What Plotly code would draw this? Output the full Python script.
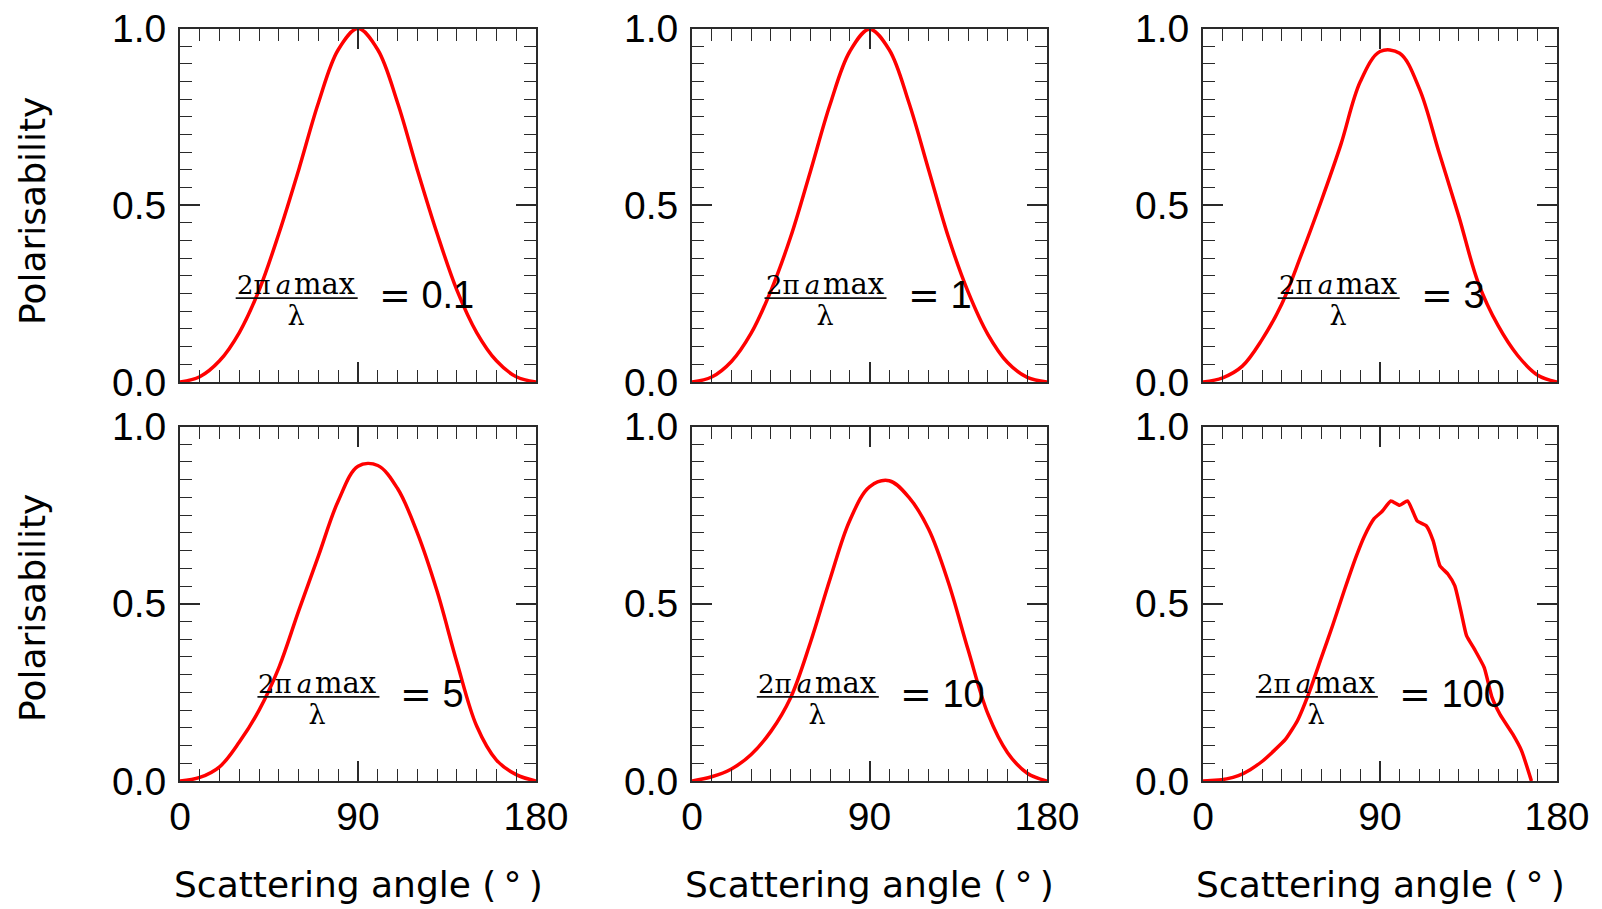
import plotly.graph_objects as go

# ---------------- data ----------------
angles = [0, 10, 20, 30, 40, 50, 60, 70, 80, 90, 100, 110, 120, 130, 140, 150, 160, 170, 180]

pol_size_01 = [0.0, 0.015, 0.06, 0.14, 0.26, 0.42, 0.60, 0.79, 0.94, 1.0, 0.94, 0.79, 0.60, 0.42, 0.26, 0.14, 0.06, 0.015, 0.0]
pol_size_1 = [0.0, 0.014, 0.058, 0.138, 0.258, 0.41, 0.595, 0.785, 0.935, 0.998, 0.94, 0.79, 0.60, 0.41, 0.255, 0.135, 0.055, 0.013, 0.0]
pol_size_3 = [0.0, 0.012, 0.045, 0.12, 0.22, 0.36, 0.51, 0.67, 0.85, 0.935, 0.93, 0.83, 0.65, 0.47, 0.28, 0.16, 0.075, 0.02, 0.0]
pol_size_5 = [0.0, 0.01, 0.04, 0.11, 0.20, 0.32, 0.48, 0.635, 0.79, 0.888, 0.89, 0.825, 0.70, 0.535, 0.335, 0.155, 0.059, 0.018, 0.0]
pol_size_10 = [0.0, 0.012, 0.034, 0.075, 0.14, 0.235, 0.39, 0.57, 0.735, 0.83, 0.847, 0.80, 0.71, 0.56, 0.37, 0.19, 0.08, 0.022, 0.0]

angles_size_100 = [0, 6, 12, 18, 24, 30, 36, 42, 48, 54, 60, 66, 72, 78, 82, 87, 91,
                   95.5, 100, 104, 106.5, 109, 113.5, 117, 120.5, 124.5, 128, 131.5,
                   134, 138, 143, 147, 151, 157.5, 162, 167]
pol_size_100 = [0.0, 0.002, 0.006, 0.015, 0.032, 0.055, 0.085, 0.118, 0.17, 0.25, 0.345,
                0.44, 0.54, 0.635, 0.69, 0.74, 0.76, 0.79, 0.778, 0.79, 0.763, 0.733,
                0.72, 0.678, 0.607, 0.584, 0.551, 0.47, 0.41, 0.372, 0.32, 0.235, 0.188,
                0.132, 0.085, 0.0]

size_param_labels = ["0.1", "1", "3", "5", "10", "100"]

x_tick_vals = [0, 90, 180]
x_tick_text = ["0", "90", "180"]
y_tick_vals = [0, 0.5, 1.0]
y_tick_text = ["0.0", "0.5", "1.0"]

x_title = "Scattering angle (\u2009°\u2009)"
y_title = "Polarisability"

series_x = [angles, angles, angles, angles, angles, angles_size_100]
series_y = [pol_size_01, pol_size_1, pol_size_3, pol_size_5, pol_size_10, pol_size_100]

# ---------------- layout helpers ----------------
W, H = 1602, 909
col_px = [(180, 536), (692, 1047), (1203, 1557)]
row_px = [(28.5, 382), (426.5, 781)]
frac_center_deg = [59.0, 67.7, 69.0, 70.0, 63.8, 57.9]
frac_bar_y = 0.2375

RED = "#ff0000"
AXC = "#2a2a2a"
TICK_FONT = dict(family="Liberation Sans, Arial, sans-serif", size=39, color="black")
TITLE_FONT = dict(family="DejaVu Sans, sans-serif", size=36, color="black")
FRACTION = ("<span style='font-size:26px'>2π\u2009<i>a</i>\u200a</span>"
            "<span style='font-size:29px'>max</span>"
            "<br><span style='font-size:27px'>λ</span>")

fig = go.Figure()
annotations = []
shapes = []

for i in range(6):
    r, c = divmod(i, 3)
    idx = "" if i == 0 else str(i + 1)
    xa, ya = "x" + idx, "y" + idx
    fig.add_trace(go.Scatter(
        x=series_x[i], y=series_y[i], mode="lines",
        line=dict(color=RED, width=3.5, shape="spline", smoothing=1.0 if i < 5 else 0.5),
        xaxis=xa, yaxis=ya, showlegend=False, hoverinfo="skip"))

    xdom = [col_px[c][0] / W, col_px[c][1] / W]
    ydom = [1 - row_px[r][1] / H, 1 - row_px[r][0] / H]
    fig.layout["xaxis" + idx] = dict(
        domain=xdom, anchor=ya, range=[0, 180], tickmode="array", automargin=False,
        tickvals=x_tick_vals, ticktext=x_tick_text, showticklabels=(r == 1),
        ticks="inside", ticklen=20, tickwidth=1.6, tickcolor=AXC,
        minor=dict(dtick=10, tick0=0, ticks="inside", ticklen=12, tickwidth=1.4, tickcolor=AXC, showgrid=False),
        showline=True, linecolor=AXC, linewidth=2, mirror="allticks",
        showgrid=False, zeroline=False, tickfont=TICK_FONT, ticklabelstandoff=0, fixedrange=True)
    fig.layout["yaxis" + idx] = dict(
        domain=ydom, anchor=xa, range=[0, 1], tickmode="array", automargin=False,
        tickvals=y_tick_vals, ticktext=y_tick_text, showticklabels=True,
        ticks="inside", ticklen=20, tickwidth=1.6, tickcolor=AXC,
        minor=dict(dtick=0.05, tick0=0, ticks="inside", ticklen=12, tickwidth=1.4, tickcolor=AXC, showgrid=False),
        showline=True, linecolor=AXC, linewidth=2, mirror="allticks",
        showgrid=False, zeroline=False, tickfont=TICK_FONT, ticklabelstandoff=4, fixedrange=True)

    xc = frac_center_deg[i]
    # fraction bar
    shapes.append(dict(type="line", xref=xa, yref=ya, xsizemode="pixel", xanchor=xc,
                       x0=-61, x1=61, y0=frac_bar_y, y1=frac_bar_y,
                       line=dict(color="#111111", width=1.8)))
    # numerator over denominator
    annotations.append(dict(xref=xa, yref=ya, x=xc, y=frac_bar_y, text=FRACTION,
                            xanchor="center", yanchor="middle", align="center", xshift=-1, yshift=-1,
                            showarrow=False,
                            font=dict(family="DejaVu Serif, serif", size=24, color="black")))
    # "= value"
    annotations.append(dict(xref=xa, yref=ya, x=xc, y=frac_bar_y,
                            text="<span style='font-family:DejaVu Sans'>=</span> " + size_param_labels[i],
                            xanchor="left", yanchor="middle", xshift=80, yshift=3, showarrow=False,
                            font=dict(family="Liberation Sans, Arial, sans-serif", size=38, color="black")))

# axis titles
for c in range(3):
    annotations.append(dict(xref="paper", yref="paper", x=(col_px[c][0] + col_px[c][1]) / 2 / W,
                            y=1 - 884 / H, text=x_title, showarrow=False,
                            xanchor="center", yanchor="middle", font=TITLE_FONT))
for r, yc in enumerate([211, 608]):
    annotations.append(dict(xref="paper", yref="paper", x=32 / W, y=1 - yc / H, text=y_title,
                            showarrow=False, textangle=-90, xanchor="center", yanchor="middle",
                            font=TITLE_FONT))

fig.update_layout(template="none", width=W, height=H,
                  margin=dict(l=0, r=0, t=0, b=0, pad=0, autoexpand=False),
                  paper_bgcolor="white", plot_bgcolor="white",
                  annotations=annotations, shapes=shapes, showlegend=False)

fig.write_html("out.html", config={"displayModeBar": False},
               post_script="document.body.style.margin='0px';document.body.style.padding='0px';"
                           "document.body.style.overflow='hidden';")
